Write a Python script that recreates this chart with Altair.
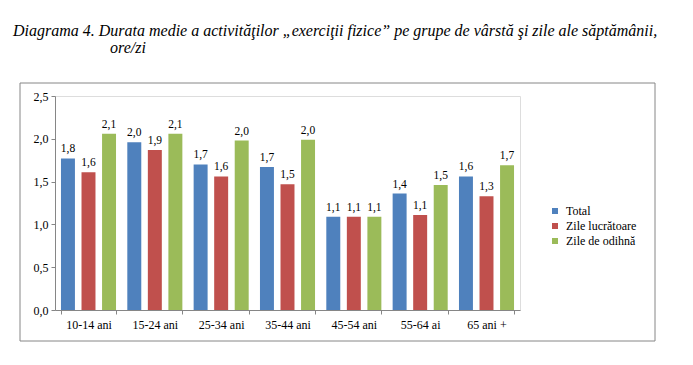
import altair as alt
import pandas as pd

categories = ["10-14 ani", "15-24 ani", "25-34 ani", "35-44 ani", "45-54 ani", "55-64 ai", "65 ani +"]
series = ["Total", "Zile lucrătoare", "Zile de odihnă"]
total = [1.77, 1.96, 1.70, 1.67, 1.09, 1.36, 1.56]
lucratoare = [1.61, 1.87, 1.56, 1.47, 1.09, 1.11, 1.33]
odihna = [2.06, 2.06, 1.98, 1.99, 1.09, 1.46, 1.69]
y_ticks = [0, 0.5, 1.0, 1.5, 2.0, 2.5]
colors = ["#4F81BD", "#C0504D", "#9BBB59"]
title_line1 = "Diagrama 4. Durata medie a activităţilor  „exerciţii fizice” pe grupe de vârstă şi zile ale săptămânii,"
title_line2 = "ore/zi"

rows = []
for i, c in enumerate(categories):
    for s, vals in zip(series, [total, lucratoare, odihna]):
        rows.append({"grupa": c, "serie": s, "valoare": vals[i]})
df = pd.DataFrame(rows)

FONT = "Liberation Serif, Times New Roman, serif"

base = alt.Chart(df).encode(
    x=alt.X("grupa:N", sort=categories, title=None,
            scale=alt.Scale(paddingInner=0.17, paddingOuter=0.09),
            axis=alt.Axis(labelAngle=0, tickBand="extent", tickSize=4, labelPadding=5,
                          labelFont=FONT, labelFontSize=12, labelColor="black",
                          domainColor="#868686", tickColor="#868686")),
    xOffset=alt.XOffset("serie:N", sort=series, scale=alt.Scale(paddingInner=0.32, paddingOuter=0)),
)

bars = base.mark_bar().encode(
    y=alt.Y("valoare:Q", title=None,
            scale=alt.Scale(domain=[0, 2.5], nice=False),
            axis=alt.Axis(values=y_ticks, grid=False, tickSize=4, labelPadding=3,
                          labelExpr="replace(format(datum.value, '.1f'), '.', ',')",
                          labelFont=FONT, labelFontSize=12, labelColor="black",
                          domainColor="#868686", tickColor="#868686")),
    color=alt.Color("serie:N", sort=series, title=None,
                    scale=alt.Scale(domain=series, range=colors),
                    legend=alt.Legend(orient="none", legendX=494, legendY=109,
                                      symbolType="square", symbolSize=36,
                                      symbolStrokeWidth=0,
                                      labelFont=FONT, labelFontSize=12, labelColor="black",
                                      rowPadding=3, labelOffset=5)),
)

labels = base.mark_text(baseline="bottom", dy=-4, font=FONT, fontSize=11.5, color="black").encode(
    y=alt.Y("valoare:Q"),
    text=alt.Text("lbl:N"),
).transform_calculate(lbl="replace(format(datum.valoare, '.1f'), '.', ',')")

frame = alt.Chart(alt.Data(values=[{"a": 1}])).mark_rect(
    fill=None, stroke="#868686", strokeWidth=1, clip=False
).encode(x=alt.value(-35), x2=alt.value(600), y=alt.value(-13), y2=alt.value(245))

t1 = alt.Chart(alt.Data(values=[{"t": title_line1}])).mark_text(
    align="left", baseline="alphabetic", font=FONT, fontSize=16, fontStyle="italic", color="black", clip=False
).encode(x=alt.value(-42), y=alt.value(-60), text="t:N")

t2 = alt.Chart(alt.Data(values=[{"t": title_line2}])).mark_text(
    align="left", baseline="alphabetic", font=FONT, fontSize=16, fontStyle="italic", color="black", clip=False
).encode(x=alt.value(55), y=alt.value(-43), text="t:N")

chart = alt.layer(frame, bars, labels, t1, t2).properties(
    width=465, height=214,
    autosize=alt.AutoSizeParams(type="none"),
    padding={"left": 47, "top": 88, "right": 165, "bottom": 43},
).configure_view(stroke=None).configure(background="white")

chart.save("out.html", embed_options={"renderer": "svg", "actions": False})
